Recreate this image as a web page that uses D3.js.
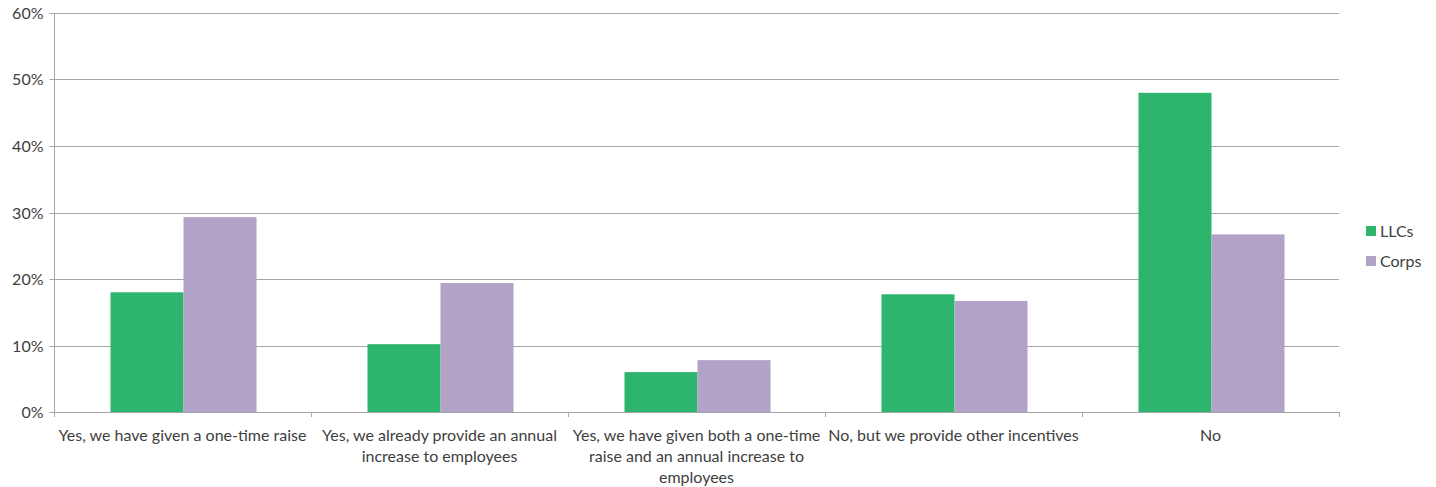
<!DOCTYPE html>
<html><head><meta charset="utf-8">
<script src="https://cdn.jsdelivr.net/npm/d3@7"></script>
<style>body{margin:0;background:#fff}svg{display:block}text{font-family:Lato,"Open Sans",sans-serif;fill:#404040}</style>
</head><body>
<svg id="c" width="1436" height="487"></svg>
<script>
const categories = [
  ["Yes, we have given a one-time raise"],
  ["Yes, we already provide an annual", "increase to employees"],
  ["Yes, we have given both a one-time", "raise and an annual increase to", "employees"],
  ["No, but we provide other incentives"],
  ["No"]
];
const seriesNames = ["LLCs", "Corps"];
const llcs = [0.18, 0.102, 0.06, 0.177, 0.48];
const corps = [0.293, 0.194, 0.078, 0.167, 0.267];
const colors = ["#2DB56E", "#B2A2C7"];
const yTicks = [0, 0.1, 0.2, 0.3, 0.4, 0.5, 0.6];

const svg = d3.select("#c");
const L = 54, R = 1339, T = 13, B = 412;
const idx = categories.map((d, i) => i);
const x = d3.scaleBand().domain(idx).range([L, R]).paddingInner(0).paddingOuter(0);
const y = d3.scaleLinear().domain([0, 0.6]).range([B, T]);
const inner = d3.scaleBand().domain([0, 1]).range([0, x.bandwidth()]).paddingOuter(0.76).paddingInner(0);

// gridlines
svg.append("g").selectAll("line").data(yTicks.slice(1)).join("line")
  .attr("x1", L).attr("x2", R).attr("y1", d => Math.round(y(d)) + 0.5).attr("y2", d => Math.round(y(d)) + 0.5)
  .attr("stroke", "#A6A6A6").attr("stroke-width", 1);

// bars
const data = [llcs, corps];
data.forEach((vals, s) => {
  svg.append("g").selectAll("rect").data(vals).join("rect")
    .attr("x", (d, i) => x(i) + inner(s) + 1)
    .attr("width", inner.bandwidth())
    .attr("y", d => y(d))
    .attr("height", d => B - y(d))
    .attr("fill", colors[s]);
});

// y axis
const yAxis = d3.axisLeft(y).tickValues(yTicks).tickFormat(d3.format(".0%")).tickSize(5).tickPadding(6);
const ga = svg.append("g").attr("transform", `translate(${L + 0.5},0)`).call(yAxis);
ga.select(".domain").attr("stroke", "#A6A6A6").attr("d", `M-5,${T + 0.5}H0V${B + 0.5}H-5`);
ga.selectAll(".tick line").attr("stroke", "#A6A6A6");
ga.selectAll(".tick").attr("transform", d => `translate(0,${Math.round(y(d)) + 0.5})`);
ga.selectAll("text").style("font-size", "16px").attr("fill", "#404040").style("font-family", "Lato,'Open Sans',sans-serif");

// x axis
const xb = svg.append("g");
xb.append("line").attr("x1", L).attr("x2", R).attr("y1", B + 0.5).attr("y2", B + 0.5).attr("stroke", "#A6A6A6");
const bounds = idx.map(i => x(i)).concat([R]);
xb.selectAll("line.t").data(bounds).join("line").attr("class", "t")
  .attr("x1", d => Math.round(d) + 0.5).attr("x2", d => Math.round(d) + 0.5)
  .attr("y1", B).attr("y2", B + 5).attr("stroke", "#A6A6A6");
idx.forEach(i => {
  const t = xb.append("text").attr("text-anchor", "middle").style("font-size", "16px")
    .attr("x", x(i) + x.bandwidth() / 2).attr("y", 441);
  categories[i].forEach((ln, j) => t.append("tspan").attr("x", x(i) + x.bandwidth() / 2).attr("y", 441 + j * 21).text(ln));
});

// legend
const lg = svg.append("g");
seriesNames.forEach((n, s) => {
  lg.append("rect").attr("x", 1366).attr("y", 226 + s * 30).attr("width", 10).attr("height", 10).attr("fill", colors[s]);
  lg.append("text").attr("x", 1380).attr("y", 237 + s * 30).style("font-size", "16px").text(n);
});
</script>
</body></html>
